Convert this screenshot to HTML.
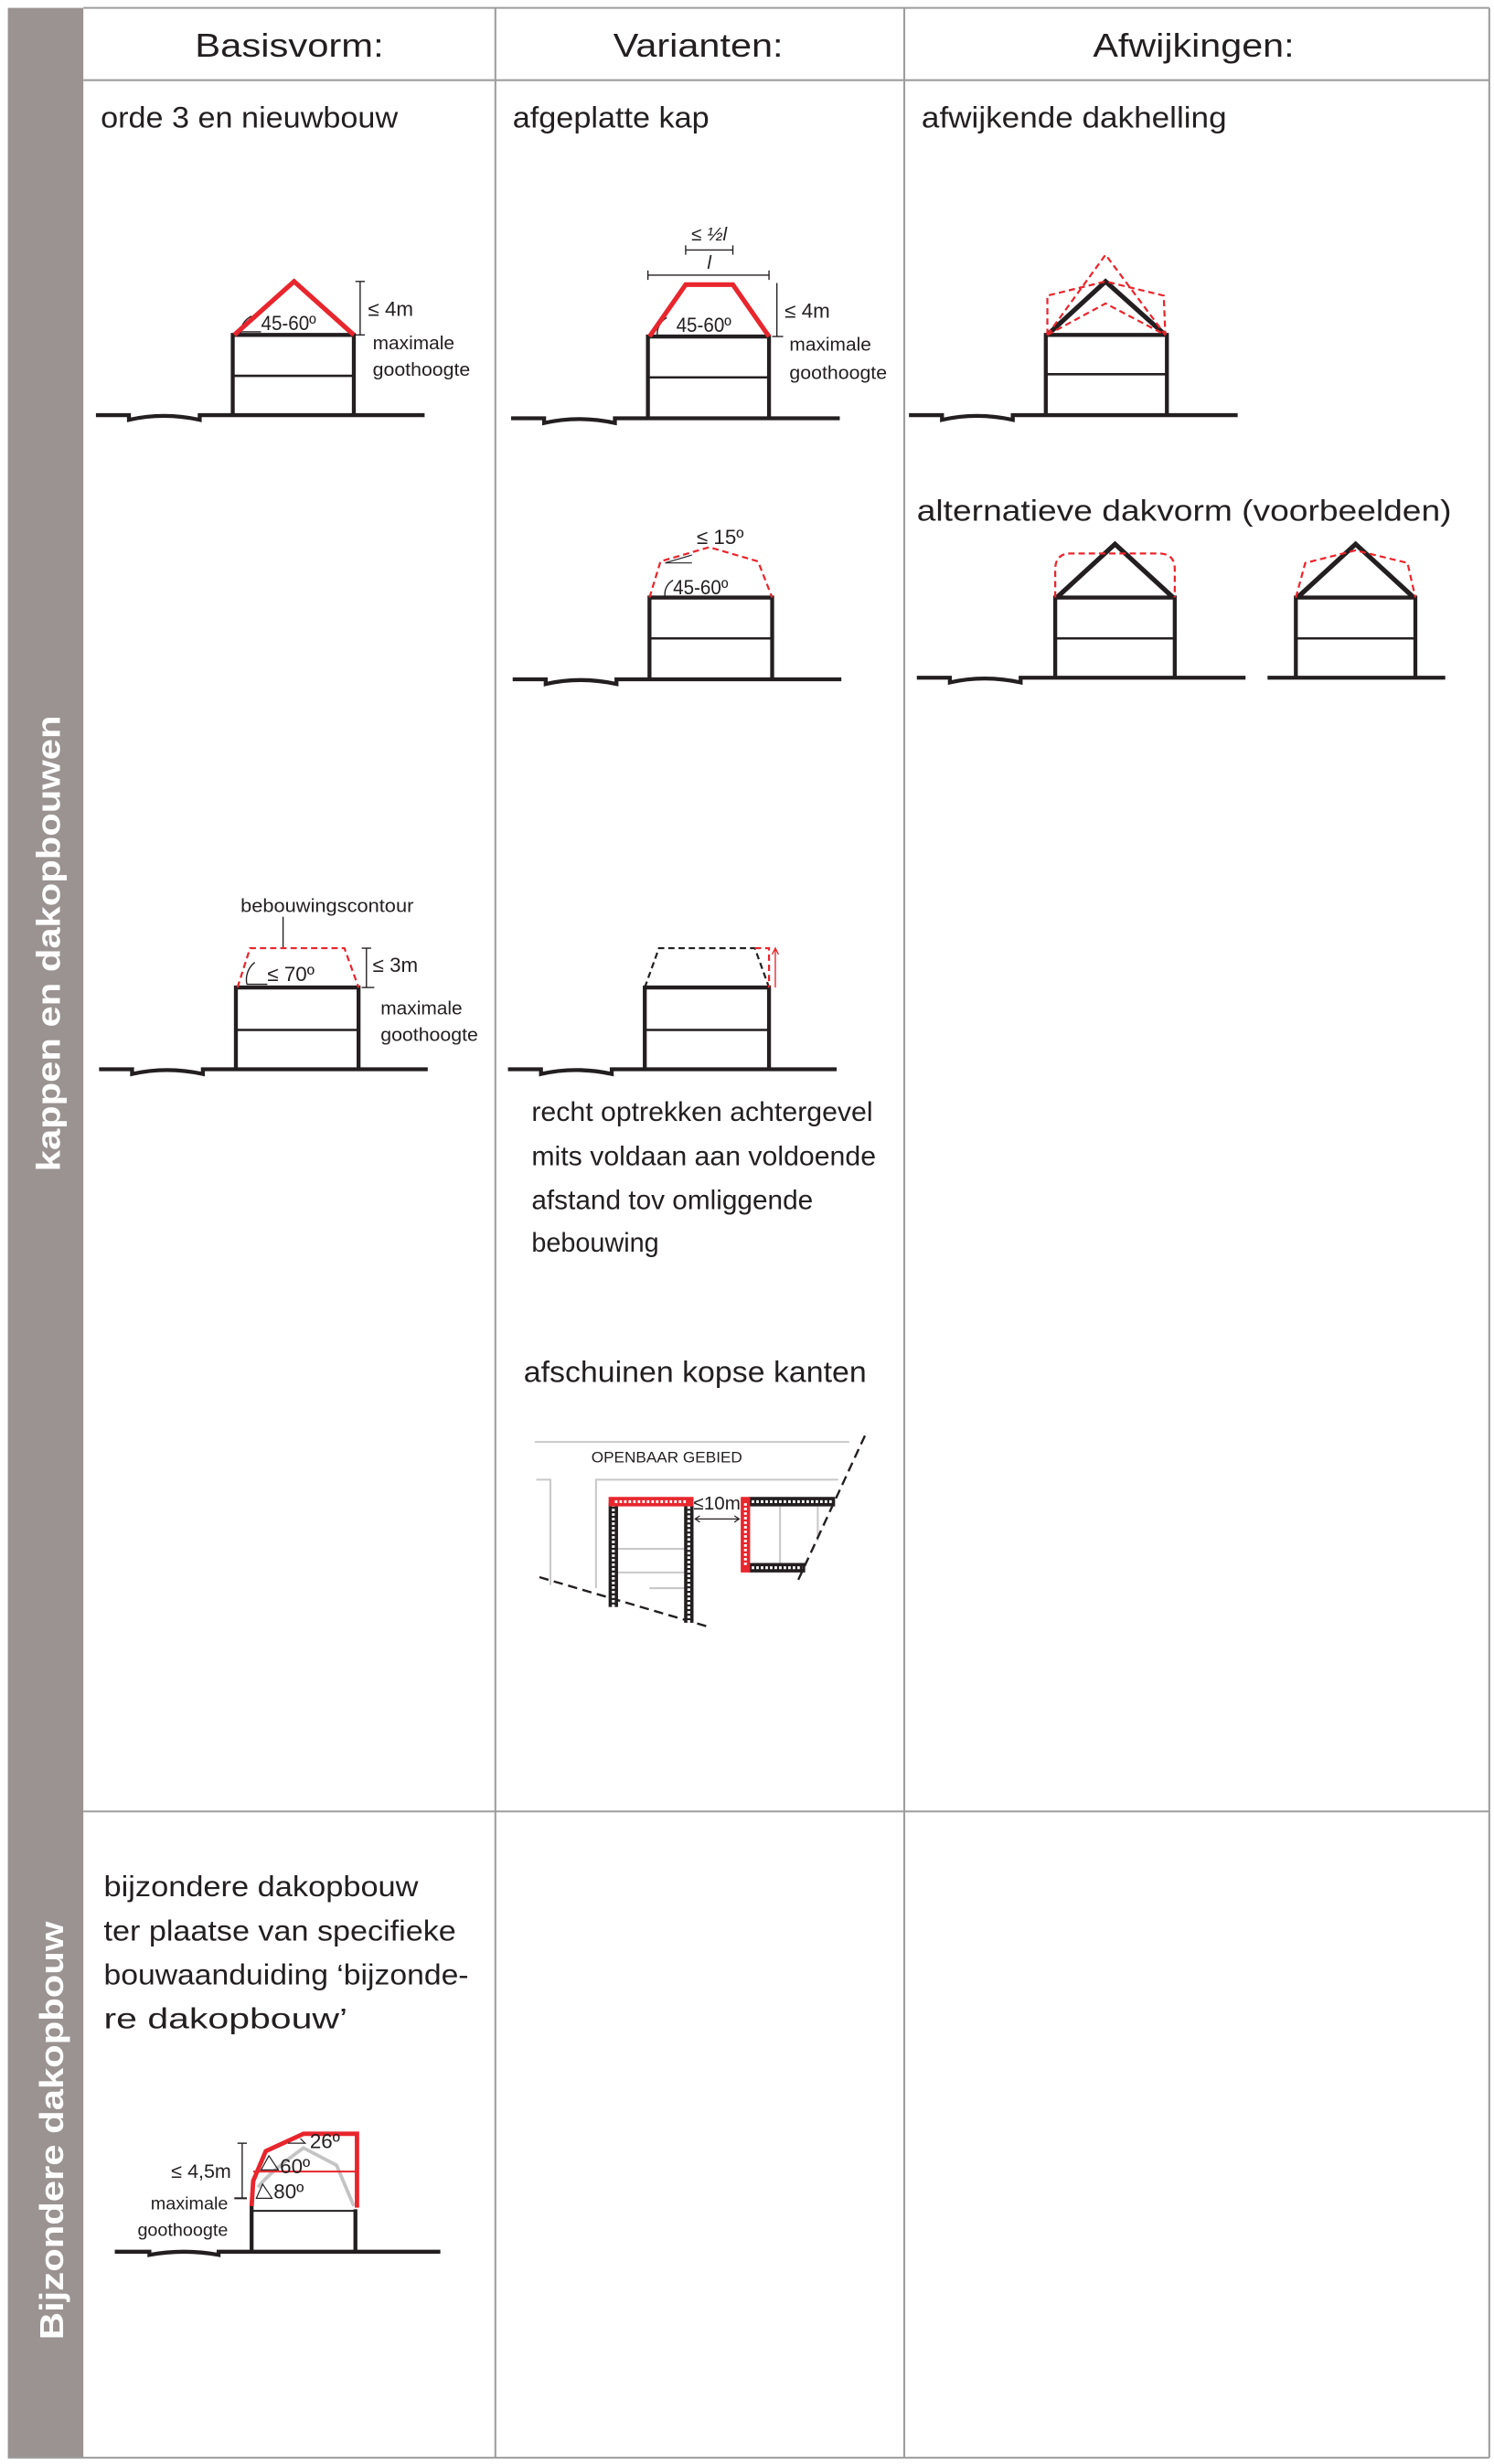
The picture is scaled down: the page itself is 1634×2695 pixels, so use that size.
<!DOCTYPE html>
<html><head><meta charset="utf-8"><style>
html,body{margin:0;padding:0;background:#fff}
svg{display:block}
text{font-family:"Liberation Sans",sans-serif;fill:#231f20}
</style></head><body>
<svg width="1634" height="2695" viewBox="0 0 950 1567" preserveAspectRatio="none" xmlns="http://www.w3.org/2000/svg">
<rect x="0" y="0" width="950" height="1567" fill="#fff"/>
<rect x="5" y="5" width="48" height="1558" fill="#9a9392"/>
<text transform="translate(38,600) rotate(-90)" text-anchor="middle" font-size="21" font-weight="bold" style="fill:#fff" textLength="290" lengthAdjust="spacingAndGlyphs">kappen en dakopbouwen</text>
<text transform="translate(40,1355) rotate(-90)" text-anchor="middle" font-size="21" font-weight="bold" style="fill:#fff" textLength="266" lengthAdjust="spacingAndGlyphs">Bijzondere dakopbouw</text>
<g stroke="#9d9d9d" stroke-width="1.2" fill="none">
<line x1="53" y1="5" x2="947" y2="5"/>
<line x1="53" y1="51" x2="947" y2="51"/>
<line x1="53" y1="1152" x2="947" y2="1152"/>
<line x1="5" y1="1563" x2="947" y2="1563"/>
<line x1="315" y1="5" x2="315" y2="1563"/>
<line x1="575" y1="5" x2="575" y2="1563"/>
<line x1="947" y1="5" x2="947" y2="1563"/>
</g>
<text x="124" y="36" font-size="21" textLength="120" lengthAdjust="spacingAndGlyphs">Basisvorm:</text>
<text x="390" y="36" font-size="21" textLength="108" lengthAdjust="spacingAndGlyphs">Varianten:</text>
<text x="695" y="36" font-size="21" textLength="128" lengthAdjust="spacingAndGlyphs">Afwijkingen:</text>
<text x="64" y="81" font-size="19" textLength="189" lengthAdjust="spacingAndGlyphs">orde 3 en nieuwbouw</text>
<text x="326" y="81" font-size="19" textLength="125" lengthAdjust="spacingAndGlyphs">afgeplatte kap</text>
<text x="586" y="81" font-size="19" textLength="194" lengthAdjust="spacingAndGlyphs">afwijkende dakhelling</text>
<text x="583" y="331" font-size="19" textLength="340" lengthAdjust="spacingAndGlyphs">alternatieve dakvorm (voorbeelden)</text>

<defs>
<g id="ground">
<path d="M0,0 H21 V3 Q43,-2 66,3 V0 H209" fill="none" stroke="#231f20" stroke-width="2.5"/>
</g>
</defs>

<!-- Drawing 1 -->
<use href="#ground" transform="translate(61,264)"/>
<g stroke="#231f20" fill="none">
<path d="M148,264 V213 H225 V264" stroke-width="2.5"/>
<line x1="148" y1="239" x2="225" y2="239" stroke-width="1.5"/>
<line x1="229" y1="179" x2="229" y2="213" stroke-width="0.8"/>
<line x1="226" y1="179" x2="232" y2="179" stroke-width="0.8"/>
<line x1="226" y1="213" x2="232" y2="213" stroke-width="0.8"/>
<path d="M153,213 A12,12 0 0 1 160,201" stroke-width="0.8"/>
<line x1="152" y1="211" x2="166" y2="211" stroke-width="0.8"/>
</g>
<path d="M149,213 L187,179 L225,213" fill="none" stroke="#e8262d" stroke-width="3"/>
<text x="166" y="210" font-size="13" textLength="35" lengthAdjust="spacingAndGlyphs">45-60º</text>
<text x="234" y="201" font-size="13">≤ 4m</text>
<text x="237" y="222" font-size="12" textLength="52" lengthAdjust="spacingAndGlyphs">maximale</text>
<text x="237" y="239" font-size="12" textLength="62" lengthAdjust="spacingAndGlyphs">goothoogte</text>

<!-- Drawing 2 -->
<use href="#ground" transform="translate(325,266)"/>
<g stroke="#231f20" fill="none">
<path d="M412,266 V214 H489 V266" stroke-width="2.5"/>
<line x1="412" y1="240" x2="489" y2="240" stroke-width="1.5"/>
<line x1="494" y1="180" x2="494" y2="214" stroke-width="0.8"/>
<line x1="491" y1="214" x2="498" y2="214" stroke-width="0.8"/>
<line x1="436" y1="159" x2="466" y2="159" stroke-width="0.8"/>
<line x1="412" y1="175" x2="489" y2="175" stroke-width="0.8"/>
<line x1="412" y1="172" x2="412" y2="178" stroke-width="0.8"/>
<line x1="489" y1="172" x2="489" y2="178" stroke-width="0.8"/>
<line x1="436" y1="156" x2="436" y2="162" stroke-width="0.8"/>
<line x1="466" y1="156" x2="466" y2="162" stroke-width="0.8"/>
<path d="M418,214 A12,12 0 0 1 424,202" stroke-width="0.8"/>
</g>
<path d="M413,214 L436,181 H466 L489,214" fill="none" stroke="#e8262d" stroke-width="3"/>
<text x="451" y="153" font-size="12" text-anchor="middle" font-style="italic" font-family="Liberation Serif">≤ ½l</text>
<text x="451" y="171" font-size="12" text-anchor="middle" font-style="italic" font-family="Liberation Serif">l</text>
<text x="430" y="211" font-size="13" textLength="35" lengthAdjust="spacingAndGlyphs">45-60º</text>
<text x="499" y="202" font-size="13">≤ 4m</text>
<text x="502" y="223" font-size="12" textLength="52" lengthAdjust="spacingAndGlyphs">maximale</text>
<text x="502" y="241" font-size="12" textLength="62" lengthAdjust="spacingAndGlyphs">goothoogte</text>

<!-- Drawing 3 -->
<use href="#ground" transform="translate(326,432)"/>
<g stroke="#231f20" fill="none">
<path d="M413,432 V380 H491 V432" stroke-width="2.5"/>
<line x1="413" y1="406" x2="491" y2="406" stroke-width="1.5"/>
<path d="M423,380 A10,10 0 0 1 428,369" stroke-width="0.8"/>
<line x1="423" y1="358" x2="440" y2="358" stroke-width="0.7"/>
<line x1="423" y1="358" x2="440" y2="353" stroke-width="0.7"/>
</g>
<path d="M413,380 L420,357 L451,348 L482,357 L491,380" fill="none" stroke="#e8262d" stroke-width="1.3" stroke-dasharray="4,2.5"/>
<text x="443" y="346" font-size="13">≤ 15º</text>
<text x="428" y="378" font-size="13" textLength="35" lengthAdjust="spacingAndGlyphs">45-60º</text>

<!-- Drawing 4 -->
<use href="#ground" transform="translate(578,264)"/>
<g stroke="#231f20" fill="none">
<path d="M665,264 V213 H742 V264" stroke-width="2.5"/>
<line x1="665" y1="238" x2="742" y2="238" stroke-width="1.5"/>
<path d="M666,213 L703,179 L741,213" stroke-width="3"/>
</g>
<g fill="none" stroke="#e8262d" stroke-width="1.3" stroke-dasharray="4,2.5">
<path d="M666,213 L703,162 L741,213"/>
<path d="M666,213 L703,193 L741,213"/>
<path d="M666,213 L666,188 L703,179 L740,188 L741,213"/>
</g>

<!-- Drawing 5 -->
<use href="#ground" transform="translate(583,431)"/>
<g stroke="#231f20" fill="none">
<path d="M671,431 V380 H747 V431" stroke-width="2.5"/>
<line x1="671" y1="406" x2="747" y2="406" stroke-width="1.5"/>
<path d="M672,380 L709,346 L746,380" stroke-width="3"/>
</g>
<path d="M671,380 V362 Q671,352 681,352 H737 Q747,352 747,362 V380" fill="none" stroke="#e8262d" stroke-width="1.3" stroke-dasharray="4,2.5"/>

<!-- Drawing 6 -->
<line x1="806" y1="431" x2="919" y2="431" stroke="#231f20" stroke-width="2.5"/>
<g stroke="#231f20" fill="none">
<path d="M824,431 V380 H900 V431" stroke-width="2.5"/>
<line x1="824" y1="406" x2="900" y2="406" stroke-width="1.5"/>
<path d="M825,380 L862,346 L899,380" stroke-width="3"/>
</g>
<path d="M824,380 L830,358 L862,350 L895,358 L900,380" fill="none" stroke="#e8262d" stroke-width="1.3" stroke-dasharray="4,2.5"/>

<!-- Drawing 7 -->
<use href="#ground" transform="translate(63,680)"/>
<g stroke="#231f20" fill="none">
<path d="M150,680 V628 H228 V680" stroke-width="2.5"/>
<line x1="150" y1="655" x2="228" y2="655" stroke-width="1.5"/>
<line x1="180" y1="583" x2="180" y2="603" stroke-width="0.8"/>
<line x1="233" y1="603" x2="233" y2="628" stroke-width="0.8"/>
<line x1="230" y1="603" x2="236" y2="603" stroke-width="0.8"/>
<line x1="230" y1="628" x2="238" y2="628" stroke-width="0.8"/>
<path d="M157,626 A14,14 0 0 1 162,612 M157,626 H170" stroke-width="0.8"/>
</g>
<path d="M151,628 L159,603 H219 L228,628" fill="none" stroke="#e8262d" stroke-width="1.3" stroke-dasharray="4,2.5"/>
<text x="153" y="580" font-size="12" textLength="110" lengthAdjust="spacingAndGlyphs">bebouwingscontour</text>
<text x="170" y="624" font-size="13">≤ 70º</text>
<text x="237" y="618" font-size="13">≤ 3m</text>
<text x="242" y="645" font-size="12" textLength="52" lengthAdjust="spacingAndGlyphs">maximale</text>
<text x="242" y="662" font-size="12" textLength="62" lengthAdjust="spacingAndGlyphs">goothoogte</text>

<!-- Drawing 8 -->
<use href="#ground" transform="translate(323,680)"/>
<g stroke="#231f20" fill="none">
<path d="M410,680 V628 H489 V680" stroke-width="2.5"/>
<line x1="410" y1="655" x2="489" y2="655" stroke-width="1.5"/>
<path d="M410,628 L419,603 H480 L489,628" stroke-width="1.3" stroke-dasharray="4,2.5"/>
</g>
<path d="M480,603 H489 V628" fill="none" stroke="#e8262d" stroke-width="1.3" stroke-dasharray="4,2.5"/>
<path d="M493,628 V604 M491,607 L493,603 L495,607" fill="none" stroke="#e8262d" stroke-width="0.8"/>
<text x="338" y="713" font-size="17" textLength="217" lengthAdjust="spacingAndGlyphs">recht optrekken achtergevel</text>
<text x="338" y="741" font-size="17" textLength="219" lengthAdjust="spacingAndGlyphs">mits voldaan aan voldoende</text>
<text x="338" y="769" font-size="17" textLength="179" lengthAdjust="spacingAndGlyphs">afstand tov omliggende</text>
<text x="338" y="796" font-size="17" textLength="81" lengthAdjust="spacingAndGlyphs">bebouwing</text>
<text x="333" y="879" font-size="19" textLength="218" lengthAdjust="spacingAndGlyphs">afschuinen kopse kanten</text>

<!-- plan -->
<g stroke="#c8c8c8" stroke-width="1.2" fill="none">
<line x1="340" y1="917" x2="540" y2="917"/>
<path d="M341,941 H350 V1008"/>
<path d="M379,1010 V941 H533"/>
<line x1="390" y1="1000" x2="438" y2="1000"/>
<line x1="390" y1="985" x2="438" y2="985"/>
<line x1="413" y1="1010" x2="438" y2="1010"/>
<line x1="496" y1="958" x2="496" y2="995"/>
<line x1="520" y1="958" x2="520" y2="980"/>
</g>
<text x="376" y="930" font-size="9.5" textLength="96" lengthAdjust="spacingAndGlyphs">OPENBAAR GEBIED</text>
<g fill="none" stroke="#231f20" stroke-width="1.4" stroke-dasharray="6,3.5">
<line x1="550" y1="913" x2="507" y2="1006"/>
<line x1="343" y1="1003" x2="452" y2="1035"/>
</g>
<g fill="none" stroke-width="6">
<path d="M390,1022 V956" stroke="#231f20"/>
<path d="M438,1032 V956" stroke="#231f20"/>
<path d="M476,955 H531" stroke="#231f20"/>
<path d="M476,997 H512" stroke="#231f20"/>
<path d="M387,955 H441" stroke="#e8262d"/>
<path d="M474,952 V1000" stroke="#e8262d"/>
</g>
<g fill="none" stroke="#fff" stroke-width="1.8" stroke-dasharray="1.6,1.3">
<path d="M390,1022 V958"/>
<path d="M438,1032 V958"/>
<path d="M478,955 H529"/>
<path d="M478,997 H510"/>
<path d="M391,955 H437"/>
<path d="M474,956 V996"/>
</g>
<text x="441" y="960" font-size="12">≤10m</text>
<path d="M442,966 H470 M445,964 L442,966 L445,968 M467,964 L470,966 L467,968" fill="none" stroke="#231f20" stroke-width="0.7"/>

<!-- Bijzondere -->
<text x="66" y="1206" font-size="18.5" textLength="200" lengthAdjust="spacingAndGlyphs">bijzondere dakopbouw</text>
<text x="66" y="1234" font-size="18.5" textLength="224" lengthAdjust="spacingAndGlyphs">ter plaatse van specifieke</text>
<text x="66" y="1262" font-size="18.5" textLength="232" lengthAdjust="spacingAndGlyphs">bouwaanduiding ‘bijzonde-</text>
<text x="66" y="1290" font-size="18.5" textLength="155" lengthAdjust="spacingAndGlyphs">re dakopbouw’</text>
<path d="M73,1432 H95 V1434 Q117,1430 139,1434 V1432 H280" fill="none" stroke="#231f20" stroke-width="2.5"/>
<g stroke="#231f20" fill="none">
<path d="M160,1432 V1402 M226,1432 V1405" stroke-width="2.5"/>
<line x1="160" y1="1406" x2="226" y2="1406" stroke-width="1.2"/>
<line x1="154" y1="1363" x2="154" y2="1398" stroke-width="0.8"/>
<line x1="151" y1="1363" x2="157" y2="1363" stroke-width="0.8"/>
<line x1="149" y1="1398" x2="157" y2="1398" stroke-width="1.2"/>
</g>
<path d="M164,1391 Q172,1381 193,1366 L214,1377 L225,1403" fill="none" stroke="#c4c4c4" stroke-width="2.2"/>
<path d="M160,1403 L161,1387 L169,1368 L193,1357 H227 V1404" fill="none" stroke="#e8262d" stroke-width="2.8"/>
<line x1="161" y1="1381" x2="227" y2="1381" stroke="#e8262d" stroke-width="1.2"/>
<g stroke="#231f20" stroke-width="0.7" fill="none">
<path d="M183,1363 H194 L191,1360"/>
<path d="M166,1380 L171,1371 L177,1380 Z"/>
<path d="M163,1398 L167,1389 L173,1398 Z"/>
</g>
<text x="197" y="1366" font-size="13">26º</text>
<text x="178" y="1382" font-size="13">60º</text>
<text x="174" y="1398" font-size="13">80º</text>
<text x="147" y="1385" font-size="12.5" text-anchor="end">≤ 4,5m</text>
<text x="145" y="1405" font-size="11.5" text-anchor="end">maximale</text>
<text x="145" y="1422" font-size="11.5" text-anchor="end">goothoogte</text>
</svg>
</body></html>
